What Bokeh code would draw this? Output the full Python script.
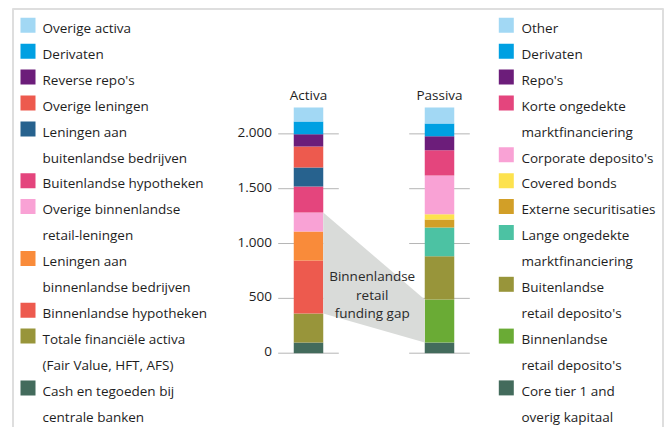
from bokeh.plotting import figure
from bokeh.models import Range1d
from bokeh.core.properties import value
from bokeh.embed import file_html
from bokeh.resources import INLINE
import numpy as np

# ---------------- data (stacks listed bottom -> top) ----------------
activa_labels = [
    "Cash en tegoeden bij\ncentrale banken",
    "Totale financiële activa\n(Fair Value, HFT, AFS)",
    "Binnenlandse hypotheken",
    "Leningen aan\nbinnenlandse bedrijven",
    "Overige binnenlandse\nretail-leningen",
    "Buitenlandse hypotheken",
    "Leningen aan\nbuitenlandse bedrijven",
    "Overige leningen",
    "Reverse repo's",
    "Derivaten",
    "Overige activa",
]
activa_values = [97, 265, 483, 264, 174, 237, 173, 191, 113, 115, 128]
activa_colors = ["#436b5c", "#98953a", "#ed5a4e", "#f98b3a", "#f9a2d5", "#e4457d",
                 "#27628e", "#ed5a4e", "#6c1d7a", "#00a0e2", "#a2d8f4"]

passiva_labels = [
    "Core tier 1 and\noverig kapitaal",
    "Binnenlandse\nretail deposito's",
    "Buitenlandse\nretail deposito's",
    "Lange ongedekte\nmarktfinanciering",
    "Externe securitisaties",
    "Covered bonds",
    "Corporate deposito's",
    "Korte ongedekte\nmarktfinanciering",
    "Repo's",
    "Derivaten",
    "Other",
]
passiva_values = [97, 392, 395, 262, 73, 48, 353, 231, 128, 115, 146]
passiva_colors = ["#436b5c", "#6aab35", "#98953a", "#4cc2a3", "#d29f27", "#fde24e",
                  "#f9a2d5", "#e4457d", "#6c1d7a", "#00a0e2", "#a2d8f4"]

bar_names = ["Activa", "Passiva"]
tick_values = [0, 500, 1000, 1500, 2000]
tick_labels = ["0", "500", "1.000", "1.500", "2.000"]
gap_text = ["Binnenlandse", "retail", "funding gap"]

# ---------------- layout constants (canvas pixels) ----------------
W, H = 667, 427
ZERO_PX = 352.7      # canvas y of value 0
K = 0.10967          # pixels per unit
FONT = value("Open Sans")
FS = "13.5px"
TXT = "#1e1e1e"
CAP_MID = 4.8        # baseline -> middle of capitals

def yv(cy):
    return (ZERO_PX - cy) / K

p = figure(width=W, height=H, x_range=Range1d(0, W), y_range=Range1d(yv(H), yv(0)),
           output_backend="svg", toolbar_location=None, min_border=0,
           x_axis_type=None, y_axis_type=None, outline_line_color=None)
p.grid.visible = False
p.background_fill_color = "white"

# frame border (top, left, right)
p.segment(x0=[12, 12.5, 662.5], y0=[yv(8.5), yv(8), yv(8)], x1=[663, 12.5, 662.5],
          y1=[yv(8.5), yv(H), yv(H)], line_color="#dedede", line_width=2)

bar_x = [308, 439]
bar_w = 29.5

# short gridlines around each bar
gx0, gx1, gy = [], [], []
for bx in bar_x:
    for t in tick_values:
        gx0.append(bx - 30.3)
        gx1.append(bx + 30.3)
        gy.append(t)
p.segment(x0=gx0, y0=gy, x1=gx1, y1=gy, line_color="#b5b5b5", line_width=1)

# tick labels
p.text(x=[271.5] * len(tick_values), y=tick_values, text=tick_labels, text_align="right",
       text_baseline="middle", text_font=FONT, text_font_size=FS, text_color=TXT,
       y_offset=-1.5)

# stacked bars
def stack(vals):
    tops = np.cumsum(vals)
    bottoms = tops - np.array(vals)
    return bottoms, tops

a_bot, a_top = stack(activa_values)
p_bot, p_top = stack(passiva_values)

p.vbar(x=[bar_x[0]] * len(activa_values), bottom=a_bot, top=a_top, width=bar_w,
       fill_color=activa_colors, line_color=None)
p.vbar(x=[bar_x[1]] * len(passiva_values), bottom=p_bot, top=p_top, width=bar_w,
       fill_color=passiva_colors, line_color=None)

# funding gap polygon: domestic retail loans (activa) vs domestic retail deposits (passiva)
ax_r = bar_x[0] + bar_w / 2
px_l = bar_x[1] - bar_w / 2
p.patch(x=[ax_r, px_l, px_l, ax_r],
        y=[a_top[4], p_top[1], p_bot[1], a_bot[2]],
        fill_color="#d9dbd9", line_color=None)

p.text(x=[371.7] * 3, y=[yv(280 - CAP_MID), yv(299 - CAP_MID), yv(317.3 - CAP_MID)],
       text=gap_text, text_align="center", text_baseline="middle", text_font=FONT,
       text_font_size=FS, text_color="#2a2a2a")

# titles
p.text(x=bar_x, y=[yv(99 - CAP_MID)] * 2, text=bar_names, text_align="center",
       text_baseline="middle", text_font=FONT, text_font_size=FS, text_color=TXT)

# legends
BASE0 = 32.3
STEP = 25.9

def legend(labels, colors, sq_x, tx_x):
    sx, sy, sc = [], [], []
    tx, ty, tt = [], [], []
    row = 0
    for lab, col in zip(labels[::-1], colors[::-1]):
        for i, ln in enumerate(lab.split("\n")):
            base = BASE0 + STEP * row
            if i == 0:
                sx.append(sq_x)
                sy.append(yv(base - 7.5))
                sc.append(col)
            tx.append(tx_x)
            ty.append(yv(base - CAP_MID))
            tt.append(ln)
            row += 1
    p.scatter(x=sx, y=sy, marker="square", size=15, fill_color=sc, line_color=None)
    p.text(x=tx, y=ty, text=tt, text_align="left", text_baseline="middle",
           text_font=FONT, text_font_size=FS, text_color=TXT)

legend(activa_labels, activa_colors, 27.5, 42)
legend(passiva_labels, passiva_colors, 505.8, 521)

open("out.html", "w").write(file_html(p, INLINE))
